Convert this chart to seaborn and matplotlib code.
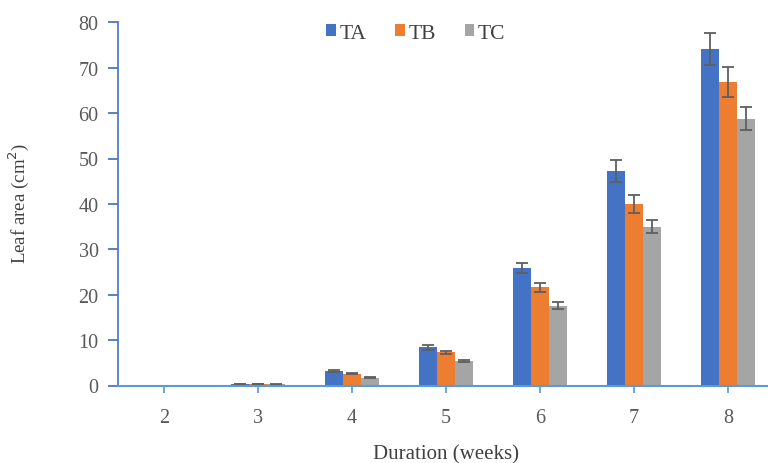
import matplotlib
matplotlib.use("Agg")
import matplotlib.pyplot as plt
import seaborn as sns
import pandas as pd
import numpy as np

weeks = ["2", "3", "4", "5", "6", "7", "8"]
treatments = ["TA", "TB", "TC"]
ta_mean = [0.0, 0.3, 3.2, 8.4, 25.9, 47.2, 74.2]
tb_mean = [0.0, 0.3, 2.6, 7.3, 21.6, 39.9, 66.8]
tc_mean = [0.0, 0.25, 1.7, 5.4, 17.6, 35.0, 58.8]
ta_err = [0.0, 0.05, 0.15, 0.6, 1.1, 2.4, 3.5]
tb_err = [0.0, 0.05, 0.15, 0.3, 1.0, 2.0, 3.3]
tc_err = [0.0, 0.05, 0.15, 0.3, 0.8, 1.4, 2.6]
colors = ["#4472C4", "#ED7D31", "#A5A5A5"]

means = {"TA": ta_mean, "TB": tb_mean, "TC": tc_mean}
errs = {"TA": ta_err, "TB": tb_err, "TC": tc_err}
df = pd.DataFrame(
    [(w, t, means[t][i], errs[t][i]) for t in treatments for i, w in enumerate(weeks)],
    columns=["week", "treatment", "area", "err"],
)

sns.set_theme(style="white")
plt.rcParams["font.family"] = ["Liberation Serif", "DejaVu Serif"]

fig = plt.figure(figsize=(7.68, 4.64), dpi=100)
ax = fig.add_axes([118 / 768, 1 - 386.5 / 464, 1 - 118 / 768, (386.5 - 23.3) / 464])

sns.barplot(
    data=df, x="week", y="area", hue="treatment", order=weeks,
    hue_order=treatments, palette=colors, errorbar=None,
    width=0.57, saturation=1, ax=ax, linewidth=0,
)

# error bars at the centre of each bar
for cont, t in zip(ax.containers, treatments):
    sub = df[df["treatment"] == t].set_index("week").loc[weeks]
    xs = [p.get_x() + p.get_width() / 2 for p in cont.patches]
    e = sub["err"].to_numpy()
    m = sub["area"].to_numpy()
    mask = m > 0
    ax.errorbar(np.array(xs)[mask], m[mask], yerr=e[mask], fmt="none",
                ecolor="#5f5f5f", elinewidth=1.3, capsize=4.5, capthick=1.3)

ax.set_ylim(0, 80)
ax.set_xlim(-0.49, 6.425)
ax.set_yticks(range(0, 81, 10))
ax.set_xlabel("Duration (weeks)", fontsize=15, color="#404040")
ax.set_ylabel("Leaf area (cm$^2$)", fontsize=13.6, color="#404040")
ax.xaxis.set_label_coords(0.504, -0.163)
ax.yaxis.set_label_coords(-0.134, 0.505)

for s in ["top", "right"]:
    ax.spines[s].set_visible(False)
ax.spines["left"].set_color("#4472C4")
ax.spines["bottom"].set_color("#5B9BD5")
ax.spines["left"].set_linewidth(1.2)
ax.spines["bottom"].set_linewidth(1.5)
ax.tick_params(axis="y", direction="out", length=7, color="#4472C4",
               labelsize=14.5, labelcolor="#595959", left=True, pad=7)
ax.tick_params(axis="x", direction="out", length=5, color="#5B9BD5",
               labelsize=14.5, labelcolor="#595959", bottom=True, pad=11.5)

handles, labels = ax.get_legend_handles_labels()
ax.legend(handles, labels, loc="center", bbox_to_anchor=(0.458, 0.9705),
          ncol=3, frameon=False, fontsize=15.5, handlelength=0.45,
          handleheight=0.45, handletextpad=0.15, columnspacing=1.35,
          labelcolor="#404040", borderaxespad=0, borderpad=0)

fig.savefig("out.png", dpi=100)
